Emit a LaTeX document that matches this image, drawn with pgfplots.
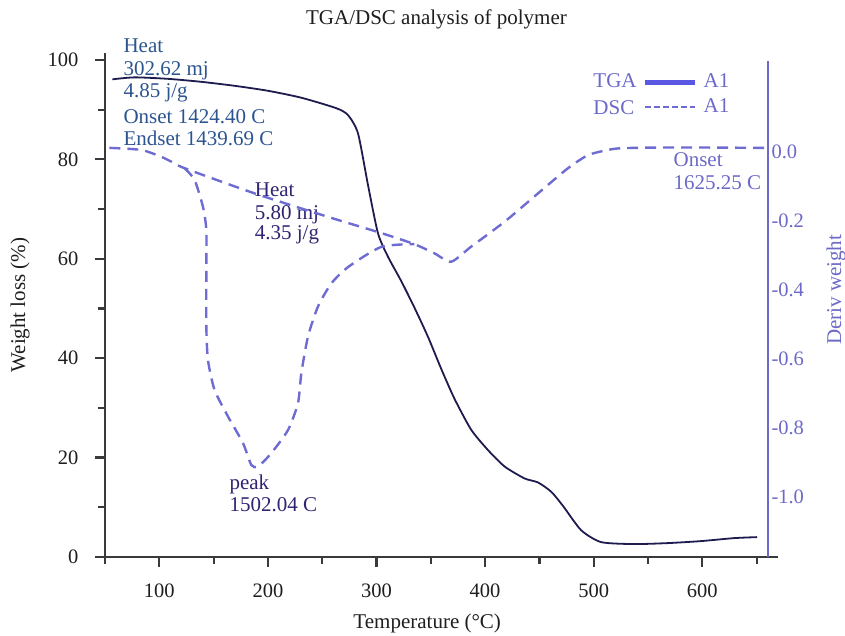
\documentclass[border=0pt]{standalone}
\usepackage{fontspec}
\setmainfont{Liberation Serif}
\usepackage{pgfplots}
\pgfplotsset{compat=1.18}

\definecolor{axisgray}{HTML}{3A3A3A}
\definecolor{ticktext}{HTML}{1E1E1E}
\definecolor{tgacol}{HTML}{1E1B4F}
\definecolor{dsccol}{HTML}{6E6CD2}
\definecolor{lav}{HTML}{6C69C8}
\definecolor{legtga}{HTML}{5A58E2}
\definecolor{annblue}{HTML}{2C5590}
\definecolor{annindigo}{HTML}{2E2472}

\newcommand{\labfont}{\fontsize{21}{25}\selectfont}
\newcommand{\tickfont}{\fontsize{20.5}{24}\selectfont}

\begin{document}
\begin{tikzpicture}
% ---------- weight loss (TGA) ----------
\begin{axis}[
  at={(0pt,0pt)}, anchor=south west,
  width=663pt, height=504pt, scale only axis,
  xmin=50, xmax=660.5, ymin=0, ymax=101.4,
  axis x line*=bottom, axis y line*=left,
  axis line style={-, draw=axisgray, line width=2.2pt},
  x axis line style={shorten >=-10pt},
  xtick={100,200,...,600}, minor xtick={50,150,...,650},
  ytick={0,20,...,100}, minor ytick={10,30,...,90},
  tick align=outside, major tick length=10pt, minor tick length=7pt,
  tick style={draw=axisgray, line width=2.2pt},
  tick label style={font=\tickfont, text=ticktext},
  /pgf/number format/assume math mode=true,
  xticklabel style={yshift=-13pt},
  yticklabel style={xshift=-13pt},
  xlabel={Temperature (°C)}, ylabel={Weight loss (\%)},
  label style={font=\labfont, text=ticktext},
  xlabel style={at={(axis description cs:0.486,-0.132)}, anchor=center},
  ylabel style={at={(axis description cs:-0.128,0.5)}, anchor=center},
  title={TGA/DSC analysis of polymer},
  title style={at={(axis description cs:0.5,1.0437)}, anchor=base, font=\labfont, text=ticktext},
  clip=false,
]
\addplot[tgacol, line width=1.8pt, smooth, tension=0.4] coordinates {
  (56.8,96.1) (77.3,96.5) (108,96.2) (138.7,95.6) (169.3,94.8) (200,93.8)
  (230.8,92.4) (262.9,90.3) (273.8,88.9) (283,85.2) (292.2,74.8) (301.4,65.1)
  (310.6,60.4) (322.8,55.5) (335.1,50.1) (347.4,44.3) (359.7,37.8) (371.9,31.8)
  (387.2,25.6) (402.7,21.5) (418,18.2) (436.4,15.8) (448.7,15.0) (461,13.1)
  (472,10.2) (488.4,5.4) (506.8,3.0) (537.2,2.6) (568.5,2.8) (598.9,3.2)
  (629.3,3.8) (650.5,4.0)
};

% annotations
\node[anchor=base west, text=annblue, font=\labfont, inner sep=0pt] at (axis cs:66.9,101.4) {Heat};
\node[anchor=base west, text=annblue, font=\labfont, inner sep=0pt] at (axis cs:66.9,96.8) {302.62 mj};
\node[anchor=base west, text=annblue, font=\labfont, inner sep=0pt] at (axis cs:66.9,92.4) {4.85 j/g};
\node[anchor=base west, text=annblue, font=\labfont, inner sep=0pt] at (axis cs:66.9,87.3) {Onset 1424.40 C};
\node[anchor=base west, text=annblue, font=\labfont, inner sep=0pt] at (axis cs:66.9,82.7) {Endset 1439.69 C};

\node[anchor=base west, text=annindigo, font=\labfont, inner sep=0pt] at (axis cs:187.8,72.5) {Heat};
\node[anchor=base west, text=annindigo, font=\labfont, inner sep=0pt] at (axis cs:187.8,67.9) {5.80 mj};
\node[anchor=base west, text=annindigo, font=\labfont, inner sep=0pt] at (axis cs:187.8,63.8) {4.35 j/g};

\node[anchor=base west, text=annindigo, font=\labfont, inner sep=0pt] at (axis cs:164.5,13.5) {peak};
\node[anchor=base west, text=annindigo, font=\labfont, inner sep=0pt] at (axis cs:164.5,9.1) {1502.04 C};

\node[anchor=base west, text=lav, font=\labfont, inner sep=0pt] at (axis cs:573.4,78.5) {Onset};
\node[anchor=base west, text=lav, font=\labfont, inner sep=0pt] at (axis cs:573.4,74.0) {1625.25 C};

\node[anchor=base west, text=lav, font=\labfont, inner sep=0pt] at (axis cs:499.6,94.4) {TGA};
\node[anchor=base west, text=lav, font=\labfont, inner sep=0pt] at (axis cs:499.6,89.1) {DSC};
\end{axis}

% ---------- derivative (DSC) ----------
\begin{axis}[
  at={(0pt,0pt)}, anchor=south west,
  width=663pt, height=504pt, scale only axis,
  xmin=50, xmax=660.5, ymin=-1.174, ymax=0.287,
  axis x line=none, axis y line*=right,
  y axis line style={-, draw=lav, line width=1.4pt, shorten >=8pt},
  ytick={-1,-0.8,-0.6,-0.4,-0.2,0},
  yticklabels={-1.0,-0.8,-0.6,-0.4,-0.2,0.0},
  major tick length=0pt,
  tick label style={font=\tickfont, text=lav},
  ylabel={Deriv weight},
  ylabel style={at={(axis description cs:1.1026,0.53)}, anchor=center, font=\labfont, text=lav},
  legend image code/.code={\draw[#1] (0pt,0pt) -- (50pt,0pt);},
  legend cell align=left,
  legend style={draw=none, fill=none, at={(axis description cs:0.8115,0.961)},
    anchor=north west, inner sep=0pt, row sep=6pt, column sep=6pt,
    font=\labfont, text=lav,
    nodes={inner sep=0pt, text height=15pt, text depth=4pt}},
  clip=false,
]
\addlegendimage{legtga, line width=4.5pt}
\addlegendentry{A1}
\addlegendimage{dsccol, line width=2pt, dash pattern=on 6pt off 3pt}
\addlegendentry{A1}

\addplot[forget plot, dsccol, line width=2.4pt, dash pattern=on 11pt off 7pt, smooth, tension=0.4] coordinates {
  (54,0.012) (83.4,0.006) (101.8,-0.014) (111.1,-0.028) (123.3,-0.047)
  (187.8,-0.120) (255.3,-0.188) (304.4,-0.235) (334.8,-0.267) (353.5,-0.294)
  (368.8,-0.318) (387.3,-0.274) (418,-0.202) (448.7,-0.120) (476.3,-0.047)
  (494.8,-0.009) (513.2,0.006) (525.4,0.011) (560,0.013) (600,0.013) (657,0.012)
};
\addplot[forget plot, dsccol, line width=2.4pt, dash pattern=on 11pt off 7pt, smooth, tension=0.4] coordinates {
  (123.3,-0.047) (132.5,-0.081) (140.2,-0.159) (143.3,-0.226) (143.3,-0.351)
  (143.3,-0.506) (144.8,-0.603) (150.9,-0.690) (163.3,-0.767) (177.1,-0.844)
  (184.7,-0.907) (190.9,-0.912) (203.1,-0.873) (218.5,-0.806) (227.7,-0.728)
  (230.8,-0.641) (236.9,-0.535) (246.1,-0.448) (258.4,-0.381) (274,-0.333)
  (304.4,-0.275) (334.8,-0.267)
};
\end{axis}
\pgfresetboundingbox
\path (-105pt,-78pt) rectangle (740pt,557pt);
\end{tikzpicture}
\end{document}
